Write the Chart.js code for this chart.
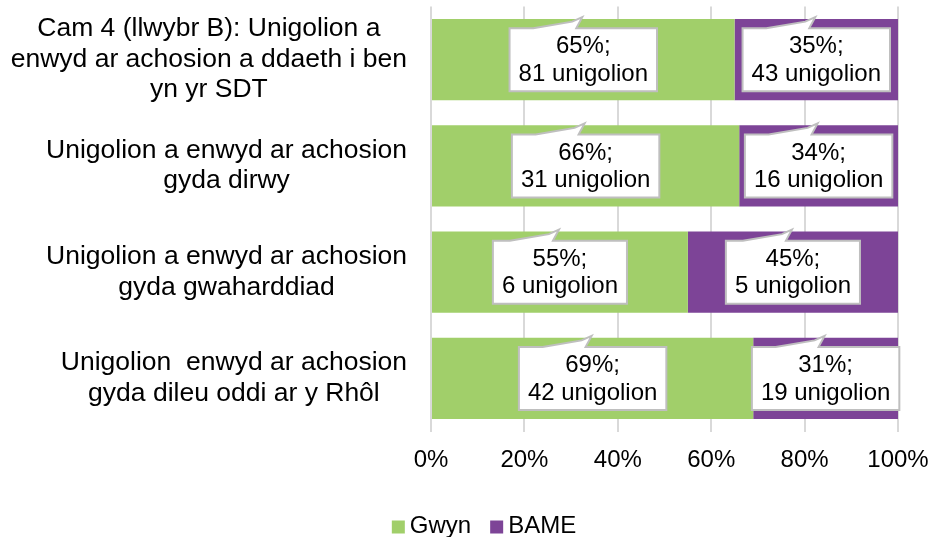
<!DOCTYPE html>
<html>
<head>
<meta charset="utf-8">
<script src="https://cdn.jsdelivr.net/npm/chart.js@4.4.1/dist/chart.umd.min.js"></script>
<style>
    html, body { margin: 0; padding: 0; background: #ffffff; }
    .chartContainer { width: 932px; height: 537px; }
</style>
</head>
<body>
<div class="chartContainer"><canvas id="myChart" width="932" height="537"></canvas></div>
<script>
// カテゴリ (multi-line labels)
var categories = [
    ['Cam 4 (llwybr B): Unigolion a', 'enwyd ar achosion a ddaeth i ben', 'yn yr SDT'],
    ['Unigolion a enwyd ar achosion', 'gyda dirwy'],
    ['Unigolion a enwyd ar achosion', 'gyda gwaharddiad'],
    ['Unigolion  enwyd ar achosion', 'gyda dileu oddi ar y Rhôl']
];
var seriesNames = ['Gwyn', 'BAME'];
var gwynPct = [65, 66, 55, 69];
var bamePct = [35, 34, 45, 31];
var gwynCount = [81, 31, 6, 42];
var bameCount = [43, 16, 5, 19];
var xTicks = [0, 20, 40, 60, 80, 100];

var fontFamily = "'Liberation Sans', Arial, sans-serif";
var countsBySeries = [gwynCount, bameCount];

Chart.defaults.font.family = fontFamily;
Chart.defaults.color = '#000000';

// left category labels: each block centered, blocks right-aligned
var categoryLabelPlugin = {
    id: 'categoryLabels',
    afterDraw: function (chart) {
        var ctx = chart.ctx;
        var yScale = chart.scales.y;
        var right = chart.chartArea.left - 24;
        ctx.save();
        ctx.font = '26.5px ' + fontFamily;
        ctx.fillStyle = '#000000';
        ctx.textAlign = 'center';
        ctx.textBaseline = 'middle';
        categories.forEach(function (lines, i) {
            var maxW = 0;
            lines.forEach(function (l) { maxW = Math.max(maxW, ctx.measureText(l).width); });
            var cx = right - maxW / 2;
            var cy = yScale.getPixelForValue(i);
            lines.forEach(function (line, k) {
                ctx.fillText(line, cx, cy + (k - (lines.length - 1) / 2) * 30.5);
            });
        });
        ctx.restore();
    }
};

// callout data labels ("65%;" / "81 unigolion")
var calloutPlugin = {
    id: 'callouts',
    afterDatasetsDraw: function (chart) {
        var ctx = chart.ctx;
        ctx.save();
        ctx.font = '24px ' + fontFamily;
        chart.data.datasets.forEach(function (ds, di) {
            var meta = chart.getDatasetMeta(di);
            meta.data.forEach(function (bar, j) {
                var p = bar.getProps(['x', 'y', 'base'], true);
                var cx = (p.x + p.base) / 2;
                var cy = p.y;
                var lines = [ds.data[j] + '%;', countsBySeries[di][j] + ' unigolion'];
                var maxW = Math.max(ctx.measureText(lines[0]).width, ctx.measureText(lines[1]).width);
                var w = maxW + 18, h = 63;
                var left = cx - w / 2, top = cy - 31.5;
                // box with a small pointer on the top edge
                ctx.beginPath();
                ctx.moveTo(left, top);
                ctx.lineTo(cx - 50, top);
                ctx.lineTo(cx - 11, top - 6.5);
                ctx.lineTo(cx - 1, top - 11);
                ctx.lineTo(cx - 7, top);
                ctx.lineTo(left + w, top);
                ctx.lineTo(left + w, top + h);
                ctx.lineTo(left, top + h);
                ctx.closePath();
                ctx.fillStyle = '#ffffff';
                ctx.fill();
                ctx.lineWidth = 2;
                ctx.strokeStyle = '#BFBFBF';
                ctx.stroke();
                ctx.fillStyle = '#000000';
                ctx.textAlign = 'center';
                ctx.textBaseline = 'middle';
                ctx.fillText(lines[0], cx, cy - 13);
                ctx.fillText(lines[1], cx, cy + 14.5);
            });
        });
        ctx.restore();
    }
};

// 凡例 at the bottom
var legendPlugin = {
    id: 'bottomLegend',
    afterDraw: function (chart) {
        var ctx = chart.ctx;
        ctx.save();
        ctx.font = '24px ' + fontFamily;
        ctx.textBaseline = 'middle';
        ctx.textAlign = 'left';
        var box = 13, gapText = 5, gapItem = 19;
        var total = 0;
        chart.data.datasets.forEach(function (ds, i) {
            total += box + gapText + ctx.measureText(ds.label).width + (i > 0 ? gapItem : 0);
        });
        var x = 484 - total / 2;
        var y = 527;
        chart.data.datasets.forEach(function (ds) {
            ctx.fillStyle = ds.backgroundColor;
            ctx.fillRect(x, y - box / 2, box, box);
            x += box + gapText;
            ctx.fillStyle = '#000000';
            ctx.fillText(ds.label, x, y - 1);
            x += ctx.measureText(ds.label).width + gapItem;
        });
        ctx.restore();
    }
};

var ctx = document.getElementById('myChart').getContext('2d');
let config = {
    type: 'bar',
    data: {
        labels: categories,
        datasets: [{
            label: seriesNames[0],
            data: gwynPct,
            backgroundColor: '#A1CF6A',
            borderWidth: 0,
            barPercentage: 1,
            categoryPercentage: 0.765
        }, {
            label: seriesNames[1],
            data: bamePct,
            backgroundColor: '#7D4497',
            borderWidth: 0,
            barPercentage: 1,
            categoryPercentage: 0.765
        }]
    },
    options: {
        indexAxis: 'y',
        responsive: false,
        animation: false,
        layout: {
            padding: { left: 431, right: 34, top: 6.5, bottom: 48.7 }
        },
        plugins: {
            legend: { display: false },
            tooltip: { enabled: false }
        },
        scales: {
            x: {
                stacked: true,
                min: xTicks[0],
                max: xTicks[xTicks.length - 1],
                afterBuildTicks: function (scale) {
                    scale.ticks = xTicks.map(function (v) { return { value: v }; });
                },
                // layout padding alone decides the plot edges
                afterFit: function (scale) {
                    scale.paddingLeft = 0;
                    scale.paddingRight = 0;
                },
                ticks: {
                    color: '#000000',
                    font: { size: 24, family: fontFamily },
                    padding: 14,
                    maxRotation: 0,
                    callback: function (v) { return v + '%'; }
                },
                grid: { color: '#D9D9D9', lineWidth: 2, drawTicks: false },
                border: { display: false }
            },
            y: {
                stacked: true,
                display: false
            }
        }
    },
    plugins: [categoryLabelPlugin, calloutPlugin, legendPlugin]
};
var myChart = new Chart(ctx, config);
</script>
</body>
</html>
